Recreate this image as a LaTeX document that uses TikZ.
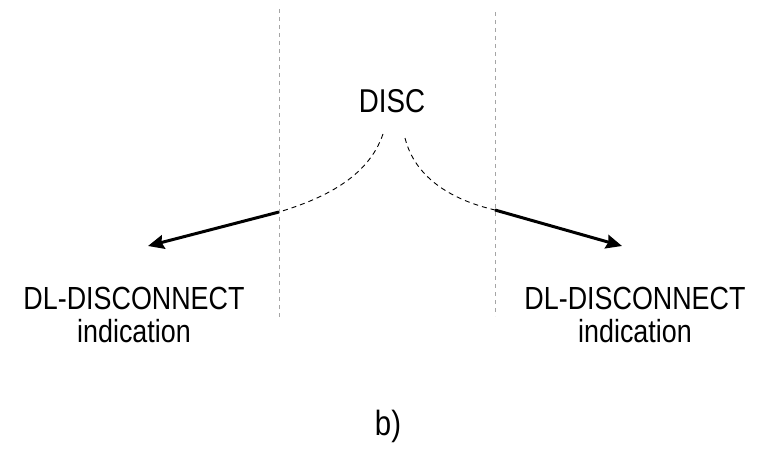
\documentclass[tikz,border=0pt]{standalone}
\usepackage{fontspec}
\setmainfont{Liberation Sans}[FakeStretch=0.84]
\usepackage{tikz}
\usetikzlibrary{arrows.meta}
\definecolor{sepGray}{RGB}{165,165,165}

\begin{document}
\begin{tikzpicture}[x=1pt,y=-1pt,
    lbl/.style={font=\fontsize{32}{33}\selectfont,align=center,inner sep=0pt},
    bound/.style={draw=sepGray,line width=0.9pt,dash pattern=on 4pt off 4pt},
    soft/.style={line width=0.9pt,dash pattern=on 5pt off 4pt},
    arr/.style={-{Stealth[length=16pt,width=14pt,inset=2pt]},line width=3pt}
  ]
  \useasboundingbox (0,0) rectangle (771,449);
  \draw[bound] (279,9) -- (279,318);
  \draw[bound] (495,12) -- (495,316);
  \node[lbl,font=\fontsize{33}{33}\selectfont,anchor=base] (disc) at (392,113) {DISC};
  \node[lbl,anchor=north] (leftind) at (134,287) {DL-DISCONNECT\\indication};
  \node[lbl,anchor=north] (rightind) at (635,287) {DL-DISCONNECT\\indication};
  \node[lbl,font=\fontsize{35}{35}\selectfont,anchor=base] (cap) at (388,435) {b)};
  \coordinate (lfrom) at (383,134);
  \coordinate (lcross) at (279,212);
  \coordinate (ltip) at (148,246);
  \coordinate (rfrom) at (405,138);
  \coordinate (rcross) at (495,210);
  \coordinate (rtip) at (622,246);
  \draw[soft] (lfrom) .. controls (368,178) and (322,199) .. (lcross);
  \draw[soft] (rfrom) .. controls (415,178) and (452,200) .. (rcross);
  \draw[arr] (lcross) -- (ltip);
  \draw[arr] (rcross) -- (rtip);
\end{tikzpicture}
\end{document}
